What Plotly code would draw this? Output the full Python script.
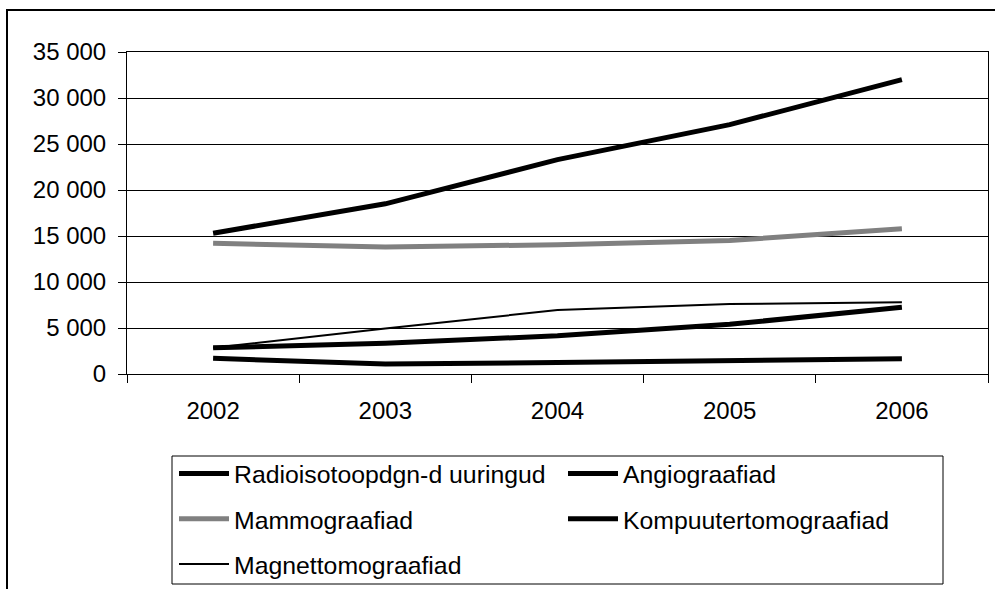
import plotly.graph_objects as go

years = ["2002", "2003", "2004", "2005", "2006"]
radioisotoop = [15300, 18500, 23300, 27100, 32000]
angiograafiad = [1700, 1100, 1250, 1400, 1650]
mammograafiad = [14200, 13800, 14050, 14500, 15800]
kompuuter = [2850, 3350, 4150, 5400, 7250]
magnet = [2850, 4950, 6950, 7600, 7800]
y_ticks = [0, 5000, 10000, 15000, 20000, 25000, 30000, 35000]

W, H = 995, 589
L, R, T, B = 127, 7, 52, 215
pw, ph = W - L - R, H - T - B


def px(x):
    return (x - L) / pw


def py(y):
    return (H - B - y) / ph


FONT = "Liberation Sans, Arial, sans-serif"

fig = go.Figure()
series = [
    ("Radioisotoopdgn-d uuringud", radioisotoop, "#000000", 5, "legend", "g1"),
    ("Angiograafiad", angiograafiad, "#000000", 5, "legend2", "g2"),
    ("Mammograafiad", mammograafiad, "#808080", 5, "legend", "g3"),
    ("Kompuutertomograafiad", kompuuter, "#000000", 5, "legend2", "g4"),
    ("Magnettomograafiad", magnet, "#000000", 2, "legend", "g5"),
]
for name, vals, col, wd, leg, grp in series:
    fig.add_trace(go.Scatter(
        x=years, y=vals, name=name, mode="lines",
        line=dict(color=col, width=wd),
        legend=leg, legendgroup=grp,
    ))

legend_common = dict(
    orientation="v", xanchor="left", yanchor="top",
    bgcolor="rgba(0,0,0,0)", borderwidth=0,
    font=dict(family=FONT, size=24.8, color="#000"),
    itemwidth=50, tracegroupgap=10, traceorder="grouped",
)

fig.update_layout(
    width=W, height=H,
    margin=dict(l=L, r=R, t=T, b=B, pad=0, autoexpand=False),
    paper_bgcolor="white", plot_bgcolor="white",
    separators=", ",
    font=dict(family=FONT, size=24, color="#000"),
    showlegend=True,
    legend=dict(x=px(174), y=py(451), **legend_common),
    legend2=dict(x=px(563), y=py(451), **legend_common),
    xaxis=dict(
        type="category", range=[-0.5, 4.5],
        showline=True, linecolor="#000", linewidth=1, mirror=True,
        ticks="outside", ticklen=8, tickcolor="#000", tickson="boundaries",
        showgrid=False, zeroline=False, automargin=False,
        tickfont=dict(family=FONT, size=24, color="#000"),
        ticklabelstandoff=15,
    ),
    yaxis=dict(
        range=[0, 35000], tickvals=y_ticks, tickformat=",d",
        showline=True, linecolor="#000", linewidth=1, mirror=True,
        ticks="outside", ticklen=8, tickcolor="#000",
        showgrid=True, gridcolor="#000", gridwidth=1, zeroline=False,
        automargin=False,
        tickfont=dict(family=FONT, size=24, color="#000"),
        ticklabelstandoff=7,
    ),
    shapes=[
        dict(type="rect", xref="paper", yref="paper",
             x0=px(7), x1=px(1010), y0=py(620), y1=py(10),
             line=dict(color="#000", width=2), fillcolor="rgba(0,0,0,0)"),
        dict(type="rect", xref="paper", yref="paper",
             x0=px(172), x1=px(943), y0=py(584), y1=py(456),
             line=dict(color="#000", width=1), fillcolor="rgba(0,0,0,0)"),
    ],
)

fig.write_html(
    "out.html",
    config={"displayModeBar": False},
    post_script="document.body.style.margin='0';document.body.style.overflow='hidden';",
)
